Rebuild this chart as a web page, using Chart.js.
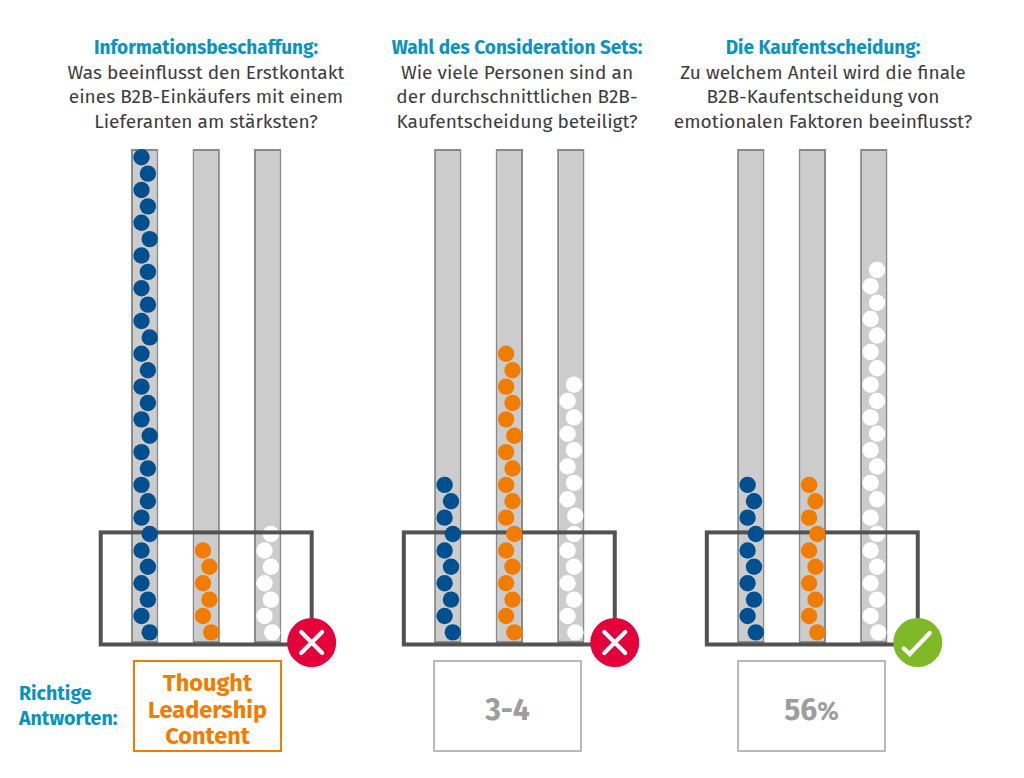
<!DOCTYPE html>
<html lang="de">
<head>
<meta charset="utf-8">
<title>B2B-Kaufentscheidung</title>
<script src="https://cdn.jsdelivr.net/npm/chart.js@4"></script>
<style>
  html,body{margin:0;padding:0;background:#fff;}
  body{width:1024px;height:778px;position:relative;overflow:hidden;font-family:"Fira Sans","Noto Sans",sans-serif;}
  canvas{position:absolute;top:0;}
  .head{position:absolute;top:36px;width:340px;text-align:center;font-size:19.1px;line-height:24.5px;color:#3c3c3c;white-space:nowrap;}
  .head b{color:#0a93bb;font-weight:700;font-size:19px;}
  .side{position:absolute;left:19px;top:680.5px;font-size:19.6px;line-height:25px;font-weight:700;color:#0a93bb;}
  .ans{position:absolute;top:660px;width:145px;height:80px;padding-top:8px;display:flex;align-items:center;justify-content:center;text-align:center;font-weight:700;}
</style>
</head>
<body>
<div class="head" style="left:36px"><b>Informationsbeschaffung:</b><br>Was beeinflusst den Erstkontakt<br>eines B2B-Einkäufers mit einem<br>Lieferanten am stärksten?</div>
<div class="head" style="left:347px"><b>Wahl des Consideration Sets:</b><br>Wie viele Personen sind an<br>der durchschnittlichen B2B-<br>Kaufentscheidung beteiligt?</div>
<div class="head" style="left:653px"><b>Die Kaufentscheidung:</b><br>Zu welchem Anteil wird die finale<br>B2B-Kaufentscheidung von<br>emotionalen Faktoren beeinflusst?</div>
<div class="side">Richtige<br>Antworten:</div>
<div class="ans" style="left:133px;border:2.5px solid #f07d00;color:#f07d00;font-size:23.5px;line-height:26.5px">Thought<br>Leadership<br>Content</div>
<div class="ans" style="left:433px;border:2.5px solid #b9b9b9;color:#9d9d9d;font-size:30px">3-4</div>
<div class="ans" style="left:737px;border:2.5px solid #b9b9b9;color:#9d9d9d;font-size:30px"><span>56<span style="font-size:25px">%</span></span></div>

<script>
// Answer options per column (unlabelled in the picture)
const categories = ['Option A', 'Option B', 'Option C'];
const scaleMax = 30;
// Number of dots in each column, per question
const panel1Counts = [30, 6, 7];
const panel2Counts = [10, 18, 16];
const panel3Counts = [10, 10, 23];
// Dots that sit furthest right in each column
const panel1Wide = [[0, 6, 12, 18, 24], [0], [0]];
const panel2Wide = [[0, 6], [0, 6, 12], [0, 7]];
const panel3Wide = [[0, 6], [0, 6], [0]];
// First dot of each column after a small upward step in the stack
const panel1Step = [null, null, null];
const panel2Step = [null, null, 7];
const panel3Step = [null, null, 8];
// Status of each answered question
const panelStatus = ['wrong', 'wrong', 'right'];

const dotColors = ['#00508f', '#f07d00', '#ffffff'];
const dotOrders = [1, 2, 3];
const unit = 61.5;              // px per category slot
const offNear = 3.2 / unit, offWide = 5 / unit, offWideWhite = 4.5 / unit;

function dotPoints(count, col, wide, step) {
  const pts = [];
  let sign = -1;
  for (let i = 0; i < count; i++) {
    let off;
    if (wide.includes(i)) {
      off = col === 2 ? offWideWhite : offWide;
      sign = -1;
    } else {
      off = sign * offNear;
      sign = -sign;
    }
    pts.push({ x: col + off, y: i + 0.5 + (step !== null && i >= step ? 0.12 : 0) });
  }
  return pts;
}

// Box around the lowest dots (above the white dots, below the others),
// and the status badge on its corner
const overlay = {
  id: 'overlay',
  afterDatasetDraw(chart, args) {
    if (args.index !== 3) return;   // white dataset
    const { ctx } = chart;
    const x = chart.scales.xDots, y = chart.scales.y;
    const l = x.getPixelForValue(-0.715), r = x.getPixelForValue(2.715);
    const t = y.getPixelForValue(6.6), b = y.getPixelForValue(-0.24);
    ctx.save();
    ctx.strokeStyle = '#525252';
    ctx.lineWidth = 4;
    ctx.strokeRect(l, t, r - l, b - t);
    ctx.restore();
  },
  afterDraw(chart, args, opts) {
    const { ctx } = chart;
    const x = chart.scales.xDots, y = chart.scales.y;
    const cx = x.getPixelForValue(2.715), cy = y.getPixelForValue(-0.12);
    ctx.save();
    ctx.beginPath();
    ctx.arc(cx, cy, 24.5, 0, Math.PI * 2);
    ctx.fillStyle = opts.status === 'right' ? '#80b928' : '#e4003a';
    ctx.fill();
    ctx.strokeStyle = '#fff';
    ctx.lineCap = 'round';
    ctx.lineJoin = 'miter';
    ctx.lineWidth = 4.2;
    ctx.beginPath();
    if (opts.status === 'right') {
      ctx.moveTo(cx - 14, cy + 6);
      ctx.lineTo(cx - 8, cy + 11.5);
      ctx.lineTo(cx + 12, cy - 9.5);
    } else {
      ctx.moveTo(cx - 10.5, cy - 10.5);
      ctx.lineTo(cx + 10.5, cy + 10.5);
      ctx.moveTo(cx + 10.5, cy - 10.5);
      ctx.lineTo(cx - 10.5, cy + 10.5);
    }
    ctx.stroke();
    ctx.restore();
  }
};

function makePanel(left, counts, wide, step, status, firstCenter) {
  const canvas = document.createElement('canvas');
  const w = 360, h = 778;
  canvas.width = w; canvas.height = h;
  canvas.style.left = left + 'px';
  canvas.style.width = w + 'px';
  canvas.style.height = h + 'px';
  document.body.insertBefore(canvas, document.body.querySelector('script'));
  const areaLeft = firstCenter - unit / 2 - left;
  const dotSets = counts.map((c, col) => ({
    type: 'scatter',
    xAxisID: 'xDots',
    data: dotPoints(c, col, wide[col], step[col]),
    pointRadius: 8.2,
    pointHoverRadius: 8.2,
    pointBorderWidth: 0,
    pointBackgroundColor: dotColors[col],
    showLine: false,
    clip: false,
    order: dotOrders[col]
  }));
  new Chart(canvas, {
    type: 'bar',
    data: {
      labels: categories,
      datasets: [{
        type: 'bar',
        data: categories.map(() => [-0.15, scaleMax]),
        backgroundColor: '#cccccc',
        borderColor: '#8a8a8a',
        borderWidth: 2,
        borderSkipped: false,
        barPercentage: 0.445,
        categoryPercentage: 1,
        grouped: false,
        order: 4
      }, ...dotSets]
    },
    options: {
      responsive: false,
      animation: false,
      events: [],
      devicePixelRatio: 1,
      layout: { padding: { left: areaLeft, right: w - areaLeft - 3 * unit, top: 149, bottom: h - 643 } },
      plugins: {
        legend: { display: false },
        title: { display: false },
        tooltip: { enabled: false },
        overlay: { status }
      },
      scales: {
        x: { type: 'category', display: false, offset: true, stacked: true },
        xDots: { type: 'linear', display: false, min: -0.5, max: 2.5, offset: false },
        y: { type: 'linear', display: false, min: -0.15, max: scaleMax }
      }
    },
    plugins: [overlay]
  });
}

makePanel(0,   panel1Counts, panel1Wide, panel1Step, panelStatus[0], 144.7);
makePanel(303, panel2Counts, panel2Wide, panel2Step, panelStatus[1], 447.8);
makePanel(606, panel3Counts, panel3Wide, panel3Step, panelStatus[2], 750.8);
</script>
</body>
</html>
